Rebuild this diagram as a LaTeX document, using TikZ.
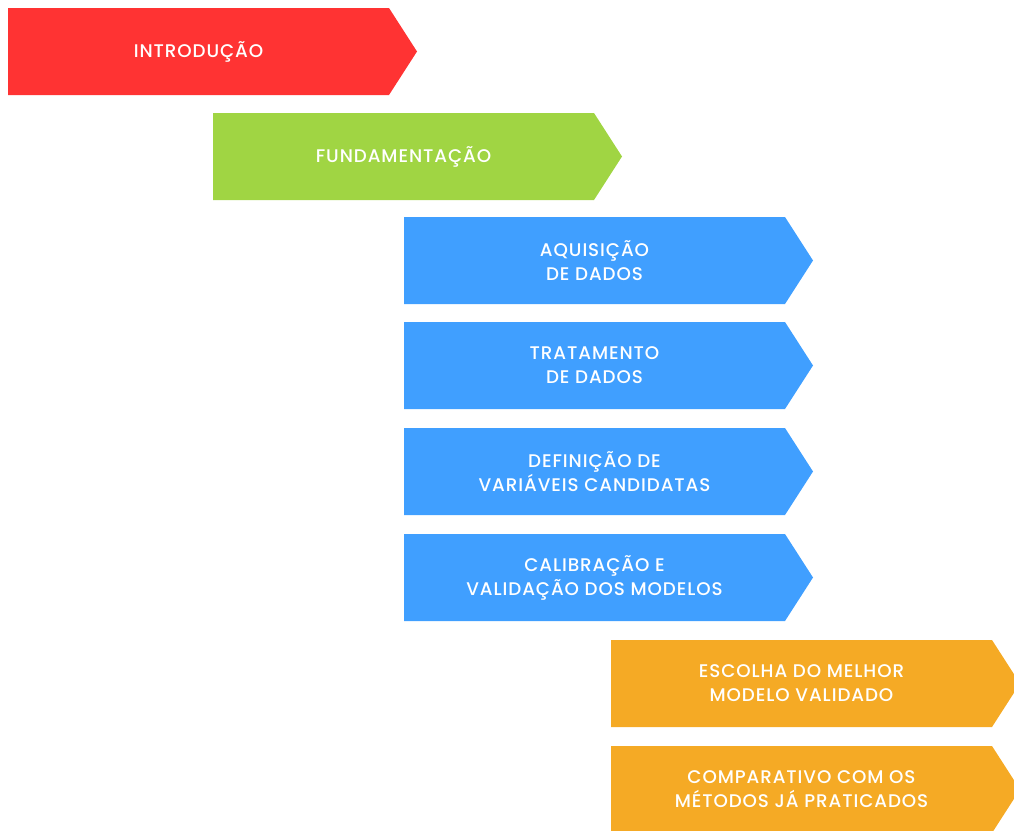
\documentclass[tikz,border=0pt]{standalone}
\usepackage{fontspec}
\setmainfont{Poppins}
\newfontfamily\stagefont{Poppins Medium}[LetterSpace=5]
\definecolor{stRed}{HTML}{FF3333}
\definecolor{stGreen}{HTML}{A0D543}
\definecolor{stBlue}{HTML}{409FFF}
\definecolor{stOrange}{HTML}{F5AA25}
\tikzset{
  lbl/.style={text=white, align=center, inner sep=0pt,
    font=\stagefont\fontsize{18.3}{24}\selectfont}
}
% #1 name, #2 left x, #3 top y, #4 bottom y, #5 colour, #6 text
\newcommand\stage[6]{%
  \fill[#5] (#2,#3) -- ({#2+381},#3) -- ({#2+409},{(#3+#4)/2})
    -- ({#2+381},#4) -- (#2,#4) -- cycle;
  \node[lbl] (#1) at ({#2+190.5},{(#3+#4)/2}) {#6};}
\begin{document}
\begin{tikzpicture}[x=1pt,y=-1pt]
\useasboundingbox (0,0) rectangle (1014,830);
\clip (0,0) rectangle (1014,830);
\stage{intro}{8}{8}{95}{stRed}{INTRODUÇÃO}
\stage{fund}{213}{113}{200}{stGreen}{FUNDAMENTAÇÃO}
\stage{aqui}{404}{217}{304}{stBlue}{AQUISIÇÃO\\DE DADOS}
\stage{trat}{404}{322}{409}{stBlue}{TRATAMENTO\\DE DADOS}
\stage{defi}{404}{428}{515}{stBlue}{DEFINIÇÃO DE\\VARIÁVEIS CANDIDATAS}
\stage{cali}{404}{534}{621}{stBlue}{CALIBRAÇÃO E\\VALIDAÇÃO DOS MODELOS}
\stage{esco}{611}{640}{727}{stOrange}{ESCOLHA DO MELHOR\\MODELO VALIDADO}
\stage{comp}{611}{746}{833}{stOrange}{COMPARATIVO COM OS\\MÉTODOS JÁ PRATICADOS}
\end{tikzpicture}
\end{document}
